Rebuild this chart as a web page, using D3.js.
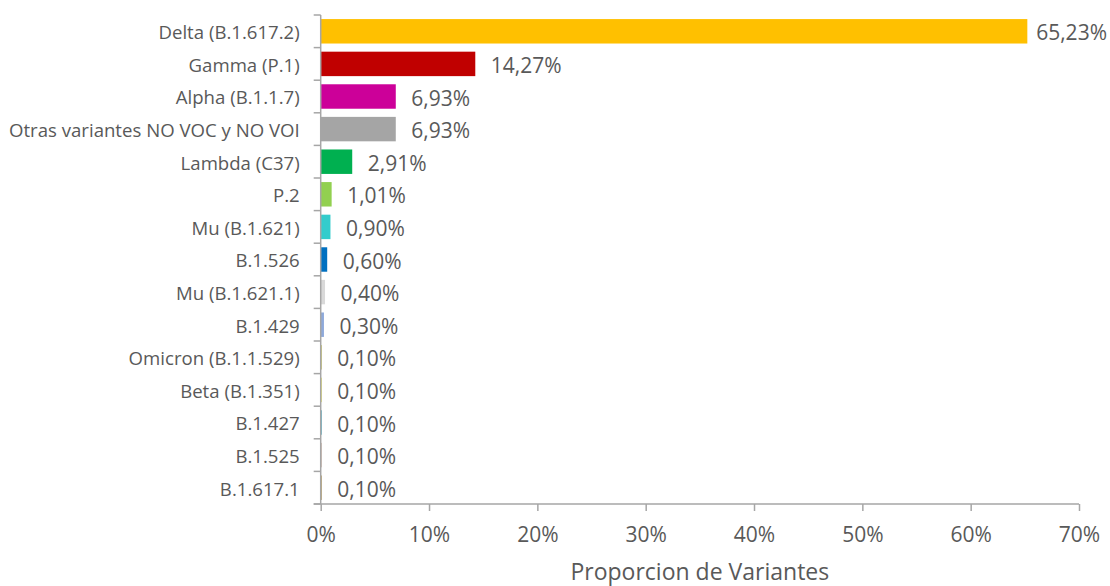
<!DOCTYPE html>
<html>
<head>
<meta charset="utf-8">
<script src="https://cdn.jsdelivr.net/npm/d3@7"></script>
<style>
  html, body { margin: 0; padding: 0; background: #fff; }
  svg { display: block; }
  text { font-family: "Open Sans", Lato, sans-serif; fill: #595959; }
</style>
</head>
<body>
<svg id="chart" width="1110" height="586"></svg>
<script>
// Variant names, top to bottom
const categories = [
  "Delta (B.1.617.2)", "Gamma (P.1)", "Alpha (B.1.1.7)", "Otras variantes NO VOC y NO VOI",
  "Lambda (C37)", "P.2", "Mu (B.1.621) ", "B.1.526", "Mu (B.1.621.1)", "B.1.429",
  "Omicron (B.1.1.529)", "Beta (B.1.351)", "B.1.427", "B.1.525", "B.1.617.1"
];
// Share of sequenced samples, in percent
const values = [65.23, 14.27, 6.93, 6.93, 2.91, 1.01, 0.90, 0.60, 0.40, 0.30, 0.10, 0.10, 0.10, 0.10, 0.10];
const barColors = [
  "#FFC000", "#C00000", "#CC0099", "#A5A5A5", "#00B050", "#92D050", "#33CCCC", "#0070C0",
  "#D9D9D9", "#8EA9DB", "#C9C35A", "#E2DC5E", "#4BACC6", "#D2B9AA", "#B99A55"
];
const xTicks = [0, 10, 20, 30, 40, 50, 60, 70];
const xTitle = "Proporcion de Variantes";

const svg = d3.select("#chart");
const plotLeft = 320.7, plotRight = 1079, plotTop = 15, plotBottom = 504;

const x = d3.scaleLinear().domain([0, 70]).range([plotLeft, plotRight]);
const y = d3.scaleBand().domain(categories).range([plotTop, plotBottom]).paddingInner(0.25).paddingOuter(0.125);
const fmt = v => d3.format(".2f")(v).replace(".", ",") + "%";

// Bars
svg.append("g").selectAll("rect").data(values).join("rect")
  .attr("x", x(0))
  .attr("y", (d, i) => y(categories[i]))
  .attr("width", d => x(d) - x(0))
  .attr("height", y.bandwidth())
  .attr("fill", (d, i) => barColors[i]);

// Value labels, kept inside the svg on the right
const labels = svg.append("g").selectAll("text").data(values).join("text")
  .attr("y", (d, i) => y(categories[i]) + y.bandwidth() / 2 + 3.5)
  .attr("dominant-baseline", "middle")
  .attr("font-size", 21)
  .text(d => fmt(d));
labels.each(function(d) {
  const w = this.getComputedTextLength();
  const px = Math.min(x(d) + 15.5, 1107 - w);
  d3.select(this).attr("x", px);
});

// Category axis (left)
const yAxis = svg.append("g").attr("transform", `translate(${plotLeft},0)`);
yAxis.append("line").attr("x1", 0).attr("x2", 0).attr("y1", plotTop).attr("y2", plotBottom)
  .attr("stroke", "#A6A6A6").attr("stroke-width", 1.5);
const edges = d3.range(categories.length + 1).map(i => plotTop + i * (plotBottom - plotTop) / categories.length);
yAxis.selectAll("line.tk").data(edges).join("line").attr("class", "tk")
  .attr("x1", -7).attr("x2", 0).attr("y1", d => d).attr("y2", d => d)
  .attr("stroke", "#A6A6A6").attr("stroke-width", 1.5);
yAxis.selectAll("text").data(categories).join("text")
  .attr("x", -21)
  .attr("y", d => y(d) + y.bandwidth() / 2 + 3)
  .attr("text-anchor", "end")
  .attr("dominant-baseline", "middle")
  .attr("font-size", 18.6)
  .text(d => d);

// Value axis (bottom)
const xAxis = svg.append("g").attr("transform", `translate(0,${plotBottom})`)
  .call(d3.axisBottom(x).tickValues(xTicks).tickFormat(d => d + "%").tickSize(7).tickPadding(16).tickSizeOuter(0));
xAxis.select(".domain").attr("d", `M${plotLeft - 7},0H${plotRight}`).attr("stroke", "#A6A6A6").attr("stroke-width", 1.5);
xAxis.selectAll(".tick line").attr("stroke", "#A6A6A6").attr("stroke-width", 1.5);
xAxis.selectAll(".tick text").attr("font-size", 21).attr("font-family", "'Open Sans', sans-serif").attr("fill", "#595959");

svg.append("text")
  .attr("x", (plotLeft + plotRight) / 2).attr("y", 579.5)
  .attr("text-anchor", "middle")
  .attr("font-size", 23)
  .text(xTitle);
</script>
</body>
</html>
